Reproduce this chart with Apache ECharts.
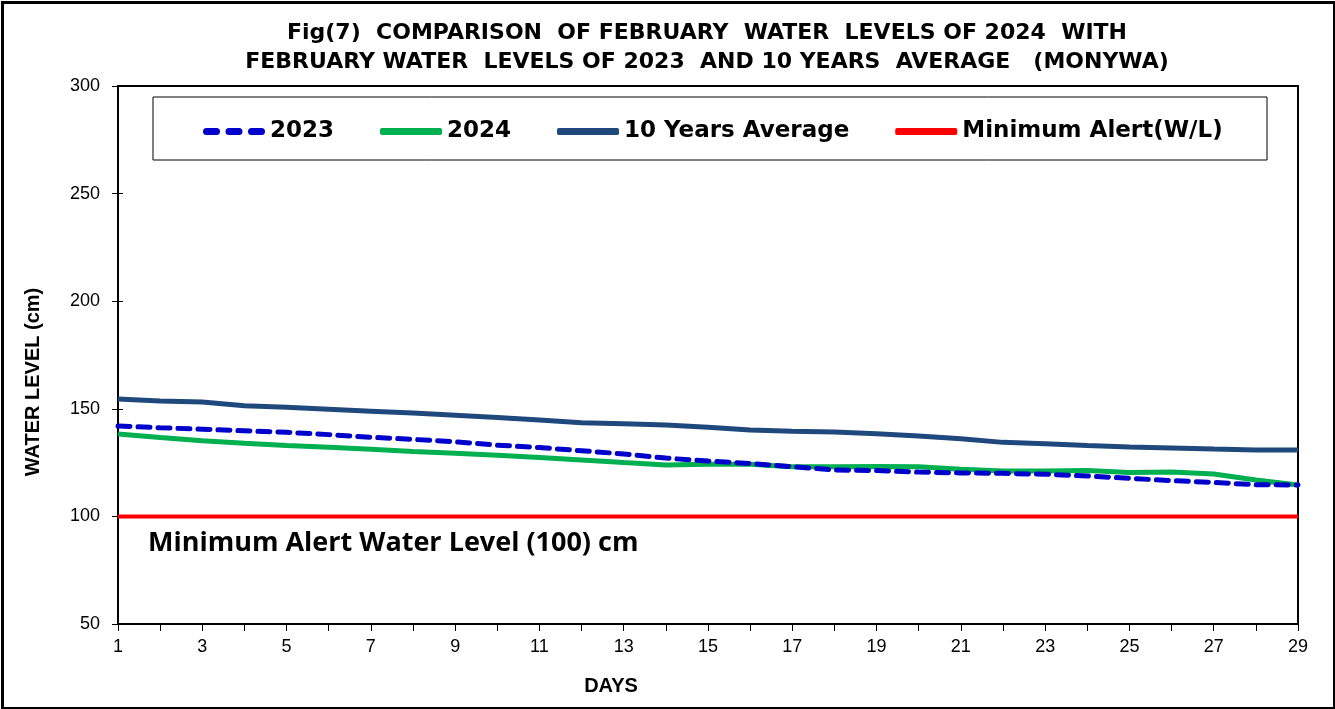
<!DOCTYPE html>
<html><head><meta charset="utf-8">
<script src="https://cdn.jsdelivr.net/npm/echarts@6/dist/echarts.min.js"></script>
<style>html,body{margin:0;padding:0;background:#fff}#c{width:1335px;height:709px}</style>
</head><body><div id="c"></div>
<script>
const days = [1,2,3,4,5,6,7,8,9,10,11,12,13,14,15,16,17,18,19,20,21,22,23,24,25,26,27,28,29];
const wl2023 = [142.0,141.2,140.5,139.8,139.1,138.0,136.8,135.8,134.7,133.1,132.0,130.5,129.0,127.1,125.7,124.6,123.1,121.6,121.3,120.6,120.2,120.0,119.6,118.8,117.7,116.6,115.8,114.7,114.6];
const wl2024 = [138.3,136.7,135.2,134.0,133.0,132.1,131.2,130.2,129.3,128.4,127.4,126.2,125.0,123.9,124.2,124.2,123.1,123.1,123.2,123.1,121.9,121.1,121.1,121.3,120.4,120.6,119.7,116.9,114.6];
const avg10 = [154.5,153.6,153.2,151.4,150.7,149.8,148.9,148.0,147.0,146.0,144.8,143.5,143.0,142.5,141.4,140.1,139.6,139.2,138.4,137.4,136.1,134.4,133.8,132.9,132.2,131.8,131.3,130.9,130.9];
const minAlert = [100,100,100,100,100,100,100,100,100,100,100,100,100,100,100,100,100,100,100,100,100,100,100,100,100,100,100,100,100];
const seriesNames = ['2023','2024','10 Years Average','Minimum Alert(W/L)'];
const yTicks = {min:50, max:300, interval:50};
const xTicks = {min:1, max:29, interval:2};

const pair = arr => days.map((d,i)=>[d,arr[i]]);
const chart = echarts.init(document.getElementById('c'), null, {renderer:'canvas'});
const dashIcon = 'path://M3.5,0h10a3.5,3.5 0 0 1 0,7h-10a3.5,3.5 0 0 1 0,-7z M26,0h10a3.5,3.5 0 0 1 0,7h-10a3.5,3.5 0 0 1 0,-7z M48.5,0h10a3.5,3.5 0 0 1 0,7h-10a3.5,3.5 0 0 1 0,-7z';
const tickRich = {t:{fontFamily:'Arial', fontSize:18, color:'#000'}};
chart.setOption({
  animation:false,
  backgroundColor:'#fff',
  title:{
    text:'Fig(7)  COMPARISON  OF FEBRUARY  WATER  LEVELS OF 2024  WITH\nFEBRUARY WATER  LEVELS OF 2023  AND 10 YEARS  AVERAGE   (MONYWA)',
    left:702, top:14, textAlign:'center',
    textStyle:{fontFamily:'DejaVu Sans', fontWeight:'bold', fontSize:22, lineHeight:29, color:'#000'}
  },
  legend:{
    left:198, top:115, itemGap:46, itemWidth:62, itemHeight:7,
    textStyle:{fontFamily:'DejaVu Sans', fontWeight:'bold', fontSize:23, color:'#000'},
    data:[
      {name:seriesNames[0], icon:dashIcon},
      {name:seriesNames[1], icon:'roundRect'},
      {name:seriesNames[2], icon:'roundRect'},
      {name:seriesNames[3], icon:'roundRect'}
    ]
  },
  grid:{left:118, right:37, top:86, bottom:85, show:true, borderColor:'#000', borderWidth:2, backgroundColor:'transparent'},
  xAxis:{
    type:'value', min:xTicks.min, max:xTicks.max, interval:xTicks.interval,
    axisLine:{onZero:false, lineStyle:{color:'#000', width:2}},
    axisTick:{show:true, length:7, lineStyle:{color:'#000'}},
    minorTick:{show:true, splitNumber:2, length:7, lineStyle:{color:'#000'}},
    splitLine:{show:false},
    axisLabel:{show:true, margin:14, formatter:'{t|{value}}', rich:tickRich}
  },
  yAxis:[{
    type:'value', min:yTicks.min, max:yTicks.max, interval:yTicks.interval,
    axisLine:{show:true, lineStyle:{color:'#000', width:2}},
    axisTick:{show:true, length:6, lineStyle:{color:'#000'}},
    splitLine:{show:false},
    axisLabel:{show:true, margin:18, formatter:'{t|{value}}', rich:tickRich}
  },{
    type:'value', min:yTicks.min, max:yTicks.max, interval:yTicks.interval, position:'left',
    axisLine:{show:false}, axisLabel:{show:false}, splitLine:{show:false},
    axisTick:{show:true, inside:true, length:5, lineStyle:{color:'#000'}}
  }],
  series:[
    {name:seriesNames[0], type:'line', data:pair(wl2023), showSymbol:false, symbol:'none', z:4,
     color:'#0000CC', lineStyle:{color:'#0000CC', width:5, type:[12,8], cap:'round'}},
    {name:seriesNames[1], type:'line', data:pair(wl2024), showSymbol:false, symbol:'none', z:3,
     color:'#00B050', lineStyle:{color:'#00B050', width:5}},
    {name:seriesNames[2], type:'line', data:pair(avg10), showSymbol:false, symbol:'none', z:3,
     color:'#1F497D', lineStyle:{color:'#1F497D', width:5}},
    {name:seriesNames[3], type:'line', data:pair(minAlert), showSymbol:false, symbol:'none', z:2,
     color:'#FF0000', lineStyle:{color:'#FF0000', width:4}}
  ],
  graphic:[
    {type:'rect', left:0, top:0, shape:{x:1.5,y:1.5,width:1332,height:706}, style:{fill:'none', stroke:'#000', lineWidth:3}, silent:true},
    {type:'rect', shape:{x:153,y:97,width:1114,height:63}, style:{fill:'#fff', stroke:'#000', lineWidth:1}, z:-1, silent:true},
    {type:'text', x:148, y:543, style:{text:'Minimum Alert Water Level (100) cm', font:'bold 27px "Open Sans", "Noto Sans", sans-serif', fill:'#000', textVerticalAlign:'middle'}},
    {type:'text', x:611, y:686, style:{text:'DAYS', font:'bold 20px "Liberation Sans", Arial', fill:'#000', textAlign:'center', textVerticalAlign:'middle'}},
    {type:'text', x:33, y:382, rotation:Math.PI/2, style:{text:'WATER LEVEL (cm)', font:'bold 20px "Liberation Sans", Arial', fill:'#000', textAlign:'center', textVerticalAlign:'middle'}}
  ]
});
</script></body></html>
